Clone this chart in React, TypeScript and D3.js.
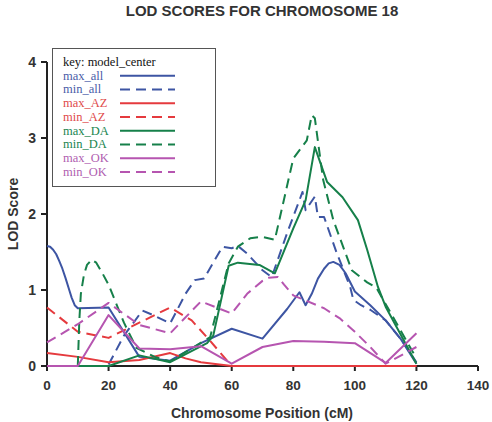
import React from "react";
import * as d3 from "d3";

type P = [number, number];

const maxAll: P[] = [[0,1.58],[1,1.57],[2,1.53],[3,1.47],[4,1.38],[5,1.28],[6,1.16],[7,1.03],[8,0.9],[9,0.8],[10,0.76],[20,0.77],[30,0.12],[40,0.07],[50,0.3],[60,0.49],[70,0.36],[78,0.75],[82,0.97],[84,0.8],[86,0.95],[88,1.15],[90,1.28],[91.5,1.35],[93,1.37],[95,1.33],[97,1.22],[100,0.98],[105,0.8],[110,0.6],[115,0.35],[120,0.03]];
const minAll: P[] = [[20,0.02],[25,0.4],[31,0.73],[35,0.66],[40,0.56],[45,0.95],[48,1.13],[51,1.15],[57,1.57],[60,1.55],[62,1.58],[65,1.48],[70,1.26],[73,1.17],[78,1.75],[83,2.29],[84,2.05],[87,2.23],[88,1.96],[90,1.96],[94,1.5],[98.5,1.04],[99.5,0.87],[102,0.8],[105,0.74],[110,0.6],[115,0.35],[120,0.05]];
const maxAZ: P[] = [[0,0.17],[10,0.12],[20,0.05],[30,0.08],[40,0.17],[45,0.1],[50,0.05],[60,0.0],[120,0.0]];
const minAZ: P[] = [[0,0.77],[10,0.45],[20,0.37],[30,0.57],[40,0.77],[47,0.6],[53,0.33],[60,0.0],[120,0.0]];
const maxDA: P[] = [[10,0],[20,0.0],[30,0.14],[40,0.05],[52,0.3],[54,0.4],[59,1.32],[62,1.36],[69,1.33],[74,1.22],[80,1.81],[84,2.18],[87,2.88],[91,2.42],[96,2.22],[101,1.92],[104,1.53],[107.5,1.04],[110,0.78],[120,0.03]];
const minDA: P[] = [[10,0],[10.5,0.6],[11,0.95],[12,1.2],[13,1.33],[14.5,1.4],[16,1.36],[18,1.22],[20,1.07],[25,0.57],[29,0.24],[35,0.12],[40,0.06],[53,0.38],[59,1.35],[62,1.57],[66,1.68],[70,1.7],[74,1.66],[80,2.73],[84.4,2.97],[86,3.3],[87,3.26],[89.7,2.45],[93,1.92],[99,1.26],[104,1.1],[107,1.03],[120,0.1]];
const maxOK: P[] = [[0,0],[10,0],[20,0.67],[30,0.23],[40,0.22],[50,0.26],[60,0.03],[70,0.25],[80,0.33],[90,0.32],[100,0.3],[110,0.04],[120,0.43]];
const minOK: P[] = [[0,0.31],[10,0.55],[20,0.83],[30,0.54],[40,0.43],[50,0.85],[60,0.69],[65,0.95],[70,1.12],[72,1.16],[75,1.17],[77,1.07],[80,0.93],[90,0.76],[95,0.63],[100,0.45],[105,0.25],[110,0.03],[120,0.25]];

const seriesNames = ["max_all","min_all","max_AZ","min_AZ","max_DA","min_DA","max_OK","min_OK"];
const seriesData = [maxAll, minAll, maxAZ, minAZ, maxDA, minDA, maxOK, minOK];
const seriesColors = ["#3d55a3","#3d55a3","#e53a3e","#e53a3e","#16804a","#16804a","#b655b0","#b655b0"];
const textColors = ["#4a5da8","#4a5da8","#e04a4a","#e04a4a","#208550","#208550","#b060b0","#b060b0"];
const seriesDashed = [false,true,false,true,false,true,false,true];

const xTicks = [0,20,40,60,80,100,120,140];
const yTicks = [0,1,2,3,4];

export default function App() {
  const x = d3.scaleLinear().domain([0,140]).range([47,478]);
  const y = d3.scaleLinear().domain([0,4]).range([366,62]);
  const line = d3.line<P>().x(d=>x(d[0])).y(d=>y(d[1])).curve(d3.curveLinear);
  const sans = "Liberation Sans, Arial, sans-serif";
  const serif = "Liberation Serif, Times New Roman, serif";
  return (
    <svg width={492} height={422} style={{position:"absolute",left:0,top:0,background:"#fff"}}>
      <text x={262} y={16} textAnchor="middle" fontFamily={sans} fontWeight="bold" fontSize={15} fill="#333">LOD SCORES FOR CHROMOSOME 18</text>
      <line x1={x(0)} x2={x(0)} y1={y(4)} y2={y(0)} stroke="#222" strokeWidth={2}/>
      <line x1={x(0)} x2={x(140)} y1={y(0)} y2={y(0)} stroke="#222" strokeWidth={2}/>
      {yTicks.map(t=>(
        <g key={"y"+t}>
          <line x1={x(0)-6} x2={x(0)} y1={y(t)} y2={y(t)} stroke="#222" strokeWidth={2}/>
          <text x={36} y={y(t)+5} textAnchor="end" fontFamily={sans} fontWeight="bold" fontSize={14} fill="#333">{t}</text>
        </g>
      ))}
      {xTicks.map(t=>(
        <g key={"x"+t}>
          <line x1={x(t)} x2={x(t)} y1={y(0)} y2={y(0)+5} stroke="#222" strokeWidth={2}/>
          <text x={x(t)} y={390} textAnchor="middle" fontFamily={sans} fontWeight="bold" fontSize={13.5} fill="#333">{t}</text>
        </g>
      ))}
      <text x={262} y={418} textAnchor="middle" fontFamily={sans} fontWeight="bold" fontSize={14} fill="#333">Chromosome Position (cM)</text>
      <text transform="translate(18,214) rotate(-90)" textAnchor="middle" fontFamily={sans} fontWeight="bold" fontSize={14} fill="#333">LOD Score</text>
      {seriesData.map((d,i)=>(
        <path key={seriesNames[i]} d={line(d) || ""} fill="none" stroke={seriesColors[i]} strokeWidth={2} strokeLinejoin="round" strokeDasharray={seriesDashed[i]?"10,6":undefined}/>
      ))}
      <rect x={52.5} y={48.5} width={163} height={138} fill="#fff" stroke="#555" strokeWidth={1}/>
      <text x={63} y={66} fontFamily={serif} fontSize={12.5} fill="#111">key: model_center</text>
      {seriesNames.map((n,i)=>{
        const cy = 75.7 + i*13.75;
        return (
          <g key={"lg"+n}>
            <text x={63} y={cy+4} fontFamily={serif} fontSize={12.5} fill={textColors[i]}>{n}</text>
            <line x1={120} x2={175} y1={cy} y2={cy} stroke={seriesColors[i]} strokeWidth={2} strokeDasharray={seriesDashed[i]?"10,6":undefined}/>
          </g>
        );
      })}
    </svg>
  );
}
